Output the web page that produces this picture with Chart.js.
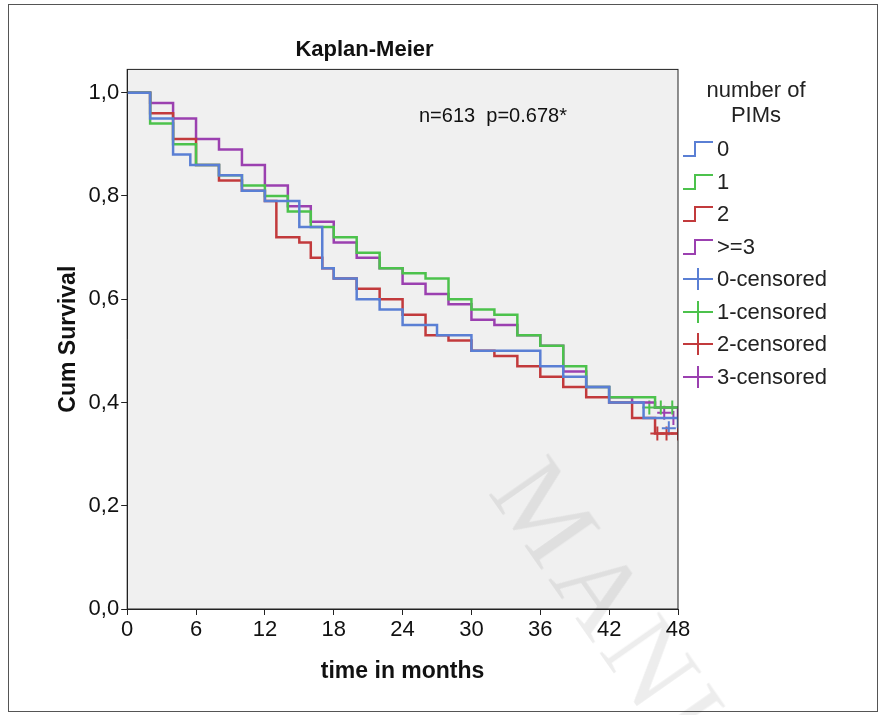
<!DOCTYPE html>
<html><head><meta charset="utf-8">
<script src="https://cdn.jsdelivr.net/npm/chart.js@4/dist/chart.umd.min.js"></script>
<style>
body{margin:0;background:#fff;font-family:"Liberation Sans",Arial,sans-serif;}
#wrap{position:absolute;left:8px;top:4px;width:868px;height:706px;border:1px solid #555;}
#c{position:absolute;left:0;top:0;}
#legend{position:absolute;left:672px;top:72px;font-size:22px;color:#222;}
#legend .t{text-align:center;width:150px;line-height:25px;margin-bottom:6px;}
#legend .r{height:32.5px;display:flex;align-items:center;}
#legend svg{width:34px;height:26px;margin-right:2px;}
#wm{position:absolute;left:560px;top:430px;font-family:"Liberation Serif",serif;font-size:110px;color:rgba(0,0,0,0.07);transform:rotate(55deg);transform-origin:0 0;letter-spacing:8px;}
</style></head><body>
<div id="wrap"><canvas id="c" width="868" height="706"></canvas>
<div id="legend"></div><div id="wm">MANUS</div></div>
<script>
var months0 = [0,2,4,5.5,8,10,12,15,17,18,20,22,24,27,30,33,36,38,40,42,45,48];
var surv0   = [1.0,0.95,0.88,0.86,0.84,0.81,0.79,0.74,0.66,0.64,0.60,0.58,0.55,0.53,0.50,0.50,0.47,0.45,0.43,0.40,0.37,0.35];
var months1 = [0,2,4,6,8,10,12,14,16,18,20,22,24,26,28,30,32,34,36,38,40,42,44,46,48];
var surv1   = [1.0,0.94,0.90,0.86,0.84,0.82,0.80,0.77,0.74,0.72,0.69,0.66,0.65,0.64,0.60,0.58,0.57,0.53,0.51,0.47,0.43,0.41,0.41,0.39,0.39];
var months2 = [0,2,4,6,8,10,12,13,15,16,17,18,20,22,24,26,28,30,32,34,36,38,40,42,44,46,48];
var surv2   = [1.0,0.96,0.91,0.86,0.83,0.81,0.79,0.72,0.71,0.68,0.66,0.64,0.62,0.60,0.57,0.53,0.52,0.50,0.49,0.47,0.45,0.43,0.41,0.40,0.37,0.34,0.34];
var months3 = [0,2,4,6,8,10,12,14,16,18,20,22,24,26,28,30,32,34,36,38,40,42,44,46,48];
var surv3   = [1.0,0.98,0.95,0.91,0.89,0.86,0.82,0.78,0.75,0.71,0.68,0.66,0.63,0.61,0.59,0.56,0.55,0.53,0.51,0.46,0.43,0.41,0.40,0.39,0.37];
var censTimes = [[47.2],[45.5,46.5,47.5],[46.2,47,48],[46.8,47.6]];
var censSurv  = [[0.35],[0.39,0.39,0.39],[0.34,0.34,0.34],[0.38,0.37]];
var groups = ['0','1','2','>=3'];
var censLabels = ['0-censored','1-censored','2-censored','3-censored'];
var colors = ['#5a7fd4','#4cc24c','#c23a3c','#9b40b0'];
var xTicks = [0,6,12,18,24,30,36,42,48];
var yTicks = [0,0.2,0.4,0.6,0.8,1.0];

var allMonths = [months0, months1, months2, months3];
var allSurv = [surv0, surv1, surv2, surv3];
function pts(xs, ys) { return xs.map(function (x, i) { return { x: x, y: ys[i] }; }); }

var datasets = [];
groups.forEach(function (g, i) {
    datasets.push({ type: 'line', label: g, data: pts(allMonths[i], allSurv[i]), stepped: 'before',
        borderColor: colors[i], borderWidth: 2.5, pointRadius: 0, fill: false });
});
censLabels.forEach(function (g, i) {
    datasets.push({ type: 'scatter', label: g, data: pts(censTimes[i], censSurv[i]), pointStyle: 'cross',
        pointRadius: 7, borderColor: colors[i], borderWidth: 2 });
});

var bg = {
    id: 'bg',
    beforeDraw: function (ch) {
        var a = ch.chartArea, c = ch.ctx;
        c.save(); c.fillStyle = '#f0f0f0'; c.fillRect(a.left, a.top, a.right - a.left, a.bottom - a.top);
        c.restore();
    },
    afterDraw: function (ch) {
        var a = ch.chartArea, c = ch.ctx;
        c.save(); c.strokeStyle = '#222'; c.lineWidth = 1; c.strokeRect(a.left, a.top, a.right - a.left, a.bottom - a.top);
        c.fillStyle = '#111'; c.font = '20px "Liberation Sans", Arial'; c.fillText('n=613  p=0.678*', 410, 117);
        c.restore();
    }
};

var tickFont = { size: 22, family: '"Liberation Sans", Arial' };
var titleFont = { size: 23, weight: 'bold', family: '"Liberation Sans", Arial' };
var gridOpt = { display: true, drawOnChartArea: false, drawTicks: true, tickLength: 6, color: '#222' };
new Chart(document.getElementById('c'), {
    data: { datasets: datasets },
    options: {
        responsive: false, animation: false,
        layout: { padding: { left: 42, right: 199, top: 4, bottom: 22 } },
        plugins: {
            legend: { display: false }, tooltip: { enabled: false },
            title: { display: true, text: 'Kaplan-Meier', color: '#111', font: { size: 22, weight: 'bold', family: '"Liberation Sans", Arial' }, padding: { top: 28, bottom: 6 } }
        },
        scales: {
            x: { type: 'linear', min: 0, max: 48, afterBuildTicks: function (ax) { ax.ticks = xTicks.map(function (v) { return { value: v }; }); },
                grid: gridOpt, border: { color: '#222' },
                ticks: { color: '#111', font: tickFont, padding: 2 },
                title: { display: true, text: 'time in months', color: '#111', font: titleFont, padding: { top: 12 } } },
            y: { min: 0, max: 1.045, afterBuildTicks: function (ax) { ax.ticks = yTicks.map(function (v) { return { value: v }; }); },
                ticks: { color: '#111', font: tickFont, padding: 2, callback: function (v) { return v.toFixed(1).replace('.', ','); } },
                grid: gridOpt, border: { color: '#222' },
                title: { display: true, text: 'Cum Survival', color: '#111', font: titleFont, padding: { bottom: 4 } } }
        }
    },
    plugins: [bg]
});

var html = '<div class="t">number of<br>PIMs</div>';
groups.forEach(function (g, i) {
    html += '<div class="r"><svg viewBox="0 0 34 26"><polyline points="2,20 14,20 14,6 32,6" fill="none" stroke="' + colors[i] + '" stroke-width="2"/></svg>' + g.replace('>', '&gt;') + '</div>';
});
censLabels.forEach(function (g, i) {
    html += '<div class="r"><svg viewBox="0 0 34 26"><path d="M2,13 H32 M17,2 V24" stroke="' + colors[i] + '" stroke-width="2"/></svg>' + g + '</div>';
});
document.getElementById('legend').innerHTML = html;
</script>
</body></html>
